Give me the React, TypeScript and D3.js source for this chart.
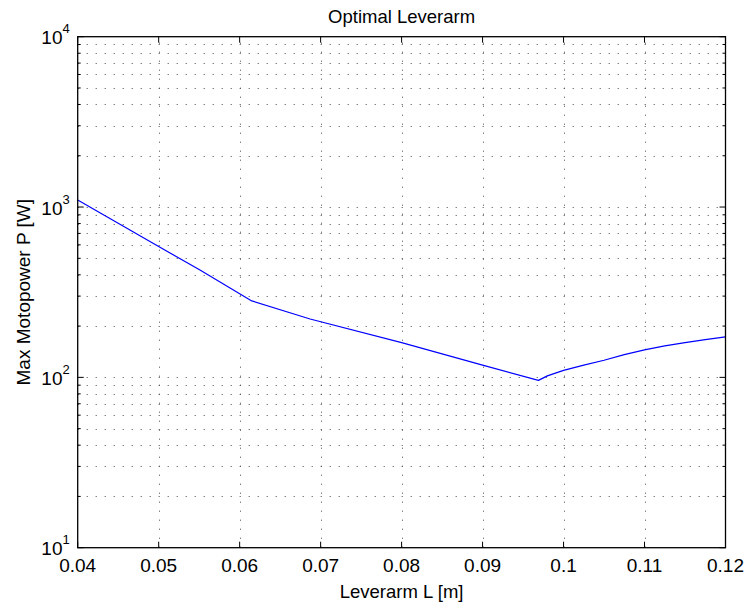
import React from "react";
import * as d3 from "d3";

const leverarm = [0.04, 0.05, 0.0551, 0.0615, 0.0687, 0.08, 0.09, 0.0969, 0.098, 0.1, 0.1025, 0.105, 0.1075, 0.11, 0.1125, 0.115, 0.1175, 0.12];
const power = [1099, 586, 427, 281, 220, 160, 118, 96, 102, 110, 118, 126, 136, 145, 153, 160, 166.5, 173];
const xTicks = [0.04, 0.05, 0.06, 0.07, 0.08, 0.09, 0.1, 0.11, 0.12];
const xTickLabels = ["0.04", "0.05", "0.06", "0.07", "0.08", "0.09", "0.1", "0.11", "0.12"];
const yDecades = [1, 2, 3, 4];

const W = 747, H = 605;
const L = 77.7, R = 725.5, T = 36.7, B = 547.7;
const FONT = "Helvetica, Arial, 'Liberation Sans', sans-serif";

export default function App() {
  const x = d3.scaleLinear().domain([0.04, 0.12]).range([L, R]);
  const y = d3.scaleLog().domain([10, 10000]).range([B, T]);
  const line = d3.line<number>().x((_, i) => x(leverarm[i])).y((d) => y(d));

  const minor: number[] = [];
  for (const e of [1, 2, 3]) for (let m = 2; m <= 9; m++) minor.push(m * Math.pow(10, e));
  const majorY = yDecades.map((e) => Math.pow(10, e));

  return (
    <svg width={W} height={H} style={{ position: "absolute", left: 0, top: 0, background: "#fff" }}>
      <rect x={0} y={0} width={W} height={H} fill="#fff" />
      {/* grid */}
      <g stroke="#000" strokeWidth={1} strokeDasharray="1,8" fill="none" opacity={0.7}>
        {xTicks.slice(1, -1).map((t) => (
          <line key={"gx" + t} x1={Math.round(x(t)) + 0.5} x2={Math.round(x(t)) + 0.5} y1={B} y2={T} />
        ))}
        {[...minor, ...majorY.slice(1, -1)].map((v) => (
          <line key={"gy" + v} x1={L} x2={R} y1={Math.round(y(v)) + 0.5} y2={Math.round(y(v)) + 0.5} />
        ))}
      </g>
      {/* data line */}
      <path d={line(power) || ""} fill="none" stroke="#0000ff" strokeWidth={1.2} strokeLinejoin="round" />
      {/* ticks */}
      <g stroke="#000" strokeWidth={1}>
        {xTicks.map((t) => (
          <g key={"tx" + t}>
            <line x1={x(t)} x2={x(t)} y1={B} y2={B - 6} />
            <line x1={x(t)} x2={x(t)} y1={T} y2={T + 6} />
          </g>
        ))}
        {majorY.map((v) => (
          <g key={"ty" + v}>
            <line x1={L} x2={L + 6} y1={y(v)} y2={y(v)} />
            <line x1={R} x2={R - 6} y1={y(v)} y2={y(v)} />
          </g>
        ))}
        {minor.map((v) => (
          <g key={"tm" + v}>
            <line x1={L} x2={L + 3} y1={y(v)} y2={y(v)} />
            <line x1={R} x2={R - 3} y1={y(v)} y2={y(v)} />
          </g>
        ))}
      </g>
      <rect x={L} y={T} width={R - L} height={B - T} fill="none" stroke="#000" strokeWidth={1.3} />
      {/* x tick labels */}
      <g fontFamily={FONT} fontSize={19} fill="#000" textAnchor="middle">
        {xTicks.map((t, i) => (
          <text key={"lx" + t} x={x(t)} y={572}>{xTickLabels[i]}</text>
        ))}
      </g>
      {/* y tick labels */}
      <g fontFamily={FONT} fill="#000">
        {yDecades.map((e) => (
          <text key={"ly" + e} x={L - 8} y={y(Math.pow(10, e)) + 7.5} textAnchor="end" fontSize={19}>
            10
            <tspan dy={-11} fontSize={13}>{e}</tspan>
          </text>
        ))}
      </g>
      <text x={(L + R) / 2} y={23} textAnchor="middle" fontFamily={FONT} fontSize={18.5} fill="#000">
        Optimal Leverarm
      </text>
      <text x={(L + R) / 2} y={598} textAnchor="middle" fontFamily={FONT} fontSize={18.5} fill="#000">
        Leverarm L [m]
      </text>
      <text
        transform={`translate(30,${(T + B) / 2}) rotate(-90)`}
        textAnchor="middle"
        fontFamily={FONT}
        fontSize={19}
        fill="#000"
      >
        Max Motopower P [W]
      </text>
    </svg>
  );
}
